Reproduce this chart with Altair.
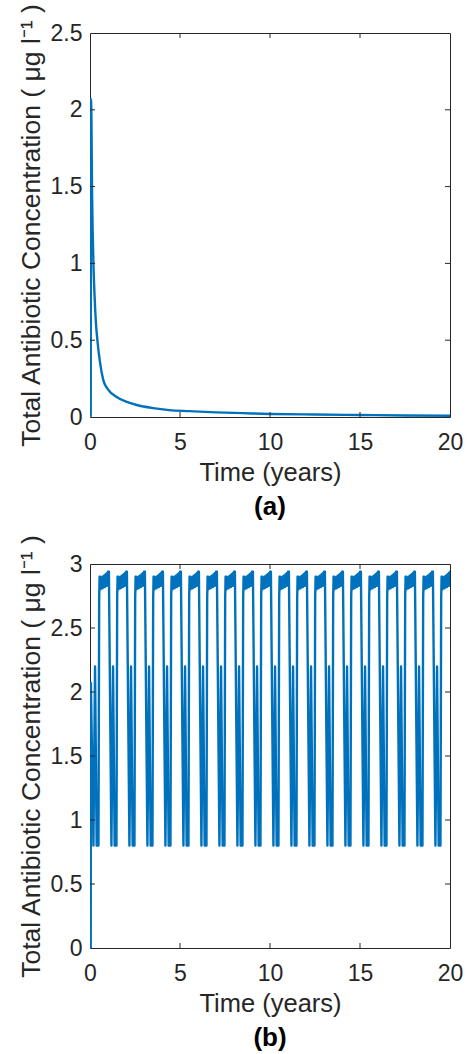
import altair as alt
import pandas as pd

# ---------------- data ----------------
# Panel (a): single dose, decay over 20 years
a_time = [0.00, 0.04, 0.05, 0.08, 0.11, 0.15, 0.19, 0.25, 0.32, 0.41, 0.55, 0.74,
          1.00, 1.48, 2.00, 2.60, 3.50, 4.40, 5.50, 7.00, 8.50, 10.0, 12.5, 15.0,
          17.5, 20.0]
a_conc = [0.00, 0.00, 2.07, 1.95, 1.50, 1.20, 1.00, 0.80, 0.63, 0.50, 0.36, 0.24,
          0.18, 0.13, 0.10, 0.078, 0.058, 0.045, 0.038, 0.030, 0.025, 0.020, 0.016,
          0.013, 0.010, 0.008]

# Panel (b): first dose, then yearly cycles
b_start_time = [0.00, 0.04, 0.05, 0.19, 0.28, 0.37]
b_start_conc = [0.00, 0.00, 2.07, 0.80, 2.20, 0.80]

cycle_years = list(range(20))
# one yearly cycle (offset from the cycle's year, value)
cycle_off = [0.47, 0.51,
             0.520, 0.533, 0.546, 0.559, 0.572, 0.585, 0.598, 0.611, 0.624, 0.637,
             0.650, 0.663, 0.676, 0.689, 0.702, 0.715, 0.728, 0.741, 0.754, 0.767,
             0.780, 0.793, 0.806, 0.819, 0.832, 0.845, 0.858, 0.871, 0.884, 0.897,
             0.910, 0.923, 0.936, 0.949, 0.962, 0.975, 0.988, 1.001, 1.014, 1.027,
             1.05, 1.19, 1.28, 1.37]
cycle_val = [0.80, 2.74,
             2.80, 2.90, 2.80, 2.90, 2.80, 2.89, 2.81, 2.89, 2.81, 2.89,
             2.81, 2.89, 2.81, 2.90, 2.81, 2.90, 2.82, 2.90, 2.82, 2.90,
             2.82, 2.91, 2.82, 2.91, 2.82, 2.91, 2.83, 2.92, 2.83, 2.92,
             2.83, 2.92, 2.83, 2.93, 2.84, 2.93, 2.84, 2.94, 2.84, 2.94,
             2.94, 0.80, 2.20, 0.80]

x_ticks = [0, 5, 10, 15, 20]
a_y_ticks = [0, 0.5, 1, 1.5, 2, 2.5]
b_y_ticks = [0, 0.5, 1, 1.5, 2, 2.5, 3]

X_MAX = 20
A_Y_MAX = 2.5
B_Y_MAX = 3

W, H = 360, 384
LINE = "#0072BD"
AX = "#262626"
FONT = "Liberation Sans"
X_TITLE = "Time (years)"
Y_TITLE = "Total Antibiotic Concentration ( \u03bcg l\u207b\u00b9 )"

df_a = pd.DataFrame({"t": a_time, "c": a_conc})

bt, bc = list(b_start_time), list(b_start_conc)
for k in cycle_years:
    for o, v in zip(cycle_off, cycle_val):
        if k + o <= X_MAX + 0.03:
            bt.append(k + o)
            bc.append(v)
df_b = pd.DataFrame({"t": bt, "c": bc})

x_axis = alt.Axis(values=x_ticks, format="~g", grid=False, ticks=False,
                  domain=False, labelFontSize=23, labelFont=FONT,
                  labelColor=AX, labelPadding=14, titleFontSize=25.5,
                  titleFont=FONT, titleFontWeight="normal", titleColor=AX,
                  titlePadding=6, labelFlush=False)


def y_axis(yticks):
    return alt.Axis(values=yticks, format="~g", grid=False, ticks=False,
                    domain=False, labelFontSize=23, labelFont=FONT,
                    labelColor=AX, labelPadding=8, titleFontSize=26.5,
                    titleFont=FONT, titleFontWeight="normal", titleColor=AX,
                    titlePadding=5, labelFlush=False)


def inner_ticks(ymax, yticks, tick_px=5):
    dx = X_MAX * tick_px / W
    dy = ymax * tick_px / H
    rows = []
    for x in x_ticks[1:-1]:
        rows.append({"t": x, "t2": x, "c": 0, "c2": dy})
        rows.append({"t": x, "t2": x, "c": ymax - dy, "c2": ymax})
    for y in yticks[1:-1]:
        rows.append({"t": 0, "t2": dx, "c": y, "c2": y})
        rows.append({"t": X_MAX - dx, "t2": X_MAX, "c": y, "c2": y})
    return pd.DataFrame(rows)


def panel(df, ymax, yticks, caption, interp):
    xs = alt.Scale(domain=[0, X_MAX], nice=False, zero=False)
    ys = alt.Scale(domain=[0, ymax], nice=False, zero=False)
    xenc = alt.X("t:Q", title=X_TITLE, scale=xs, axis=x_axis)
    yenc = alt.Y("c:Q", title=Y_TITLE, scale=ys, axis=y_axis(yticks))
    line = alt.Chart(df).mark_line(
        color=LINE, strokeWidth=2.4, clip=True, strokeJoin="round",
        interpolate=interp
    ).encode(x=xenc, y=yenc, order="t:Q")
    ticks = alt.Chart(inner_ticks(ymax, yticks)).mark_rule(
        color=AX, strokeWidth=1
    ).encode(x=xenc, x2="t2:Q", y=yenc, y2="c2:Q")
    return alt.layer(line, ticks).properties(
        width=W, height=H,
        title=alt.TitleParams(caption, orient="bottom", anchor="middle",
                              fontSize=26, font=FONT, fontWeight="bold",
                              color="#000000", offset=8),
    )


chart = alt.vconcat(
    panel(df_a, A_Y_MAX, a_y_ticks, "(a)", "monotone"),
    panel(df_b, B_Y_MAX, b_y_ticks, "(b)", "linear"),
    spacing=13,
).properties(
    padding={"left": 17, "top": 2, "right": 0, "bottom": 0},
    background="white",
).configure_view(
    stroke=AX, strokeWidth=1
)

chart.save("out.html", embed_options={"renderer": "svg", "actions": False})
